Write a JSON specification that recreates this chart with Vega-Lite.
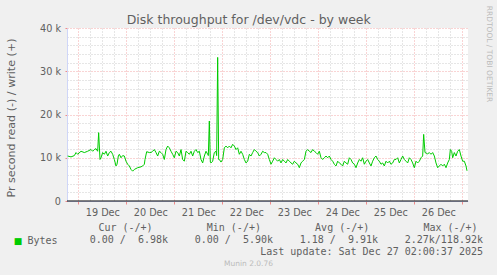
{
  "$schema": "https://vega.github.io/schema/vega-lite/v6.json",
  "background": "#f0f0f0",
  "padding": {"left": 5, "right": 6, "top": 5, "bottom": 8},
  "title": {"text": "Disk throughput for /dev/vdc - by week", "font": "DejaVu Sans", "fontSize": 12.5, "fontWeight": "normal", "color": "#606060", "anchor": "middle", "offset": -21},
  "spacing": 5,
  "datasets": {
    "write": [
      {"t":"2025-12-18T18:40","w":10400},{"t":"2025-12-18T20:20","w":10200},{"t":"2025-12-18T22:00","w":10500},{"t":"2025-12-18T22:50","w":11200},{"t":"2025-12-18T23:40","w":10800},
      {"t":"2025-12-19T01:20","w":11500},{"t":"2025-12-19T03:00","w":11200},{"t":"2025-12-19T04:40","w":11500},{"t":"2025-12-19T06:20","w":11900},{"t":"2025-12-19T07:10","w":11500},{"t":"2025-12-19T08:00","w":11900},{"t":"2025-12-19T08:50","w":12100},{"t":"2025-12-19T09:40","w":11500},{"t":"2025-12-19T10:10","w":15800},{"t":"2025-12-19T10:50","w":9600},{"t":"2025-12-19T11:20","w":10000},{"t":"2025-12-19T12:10","w":11200},{"t":"2025-12-19T13:00","w":10800},{"t":"2025-12-19T13:50","w":11500},{"t":"2025-12-19T14:40","w":10400},{"t":"2025-12-19T15:30","w":11200},{"t":"2025-12-19T16:20","w":11500},{"t":"2025-12-19T17:10","w":10800},{"t":"2025-12-19T18:00","w":9600},{"t":"2025-12-19T18:50","w":8100},{"t":"2025-12-19T19:20","w":8500},{"t":"2025-12-19T20:00","w":10400},{"t":"2025-12-19T20:30","w":10800},{"t":"2025-12-19T21:20","w":10000},{"t":"2025-12-19T22:10","w":10500},{"t":"2025-12-19T23:00","w":10400},{"t":"2025-12-19T23:50","w":9200},
      {"t":"2025-12-20T00:40","w":8500},{"t":"2025-12-20T01:30","w":8100},{"t":"2025-12-20T02:20","w":7300},{"t":"2025-12-20T03:10","w":6900},{"t":"2025-12-20T04:00","w":7300},{"t":"2025-12-20T05:40","w":7700},{"t":"2025-12-20T07:20","w":7900},{"t":"2025-12-20T08:10","w":8100},{"t":"2025-12-20T09:00","w":8500},{"t":"2025-12-20T09:20","w":9600},{"t":"2025-12-20T10:10","w":11400},{"t":"2025-12-20T11:30","w":11200},{"t":"2025-12-20T12:20","w":11200},{"t":"2025-12-20T13:10","w":11500},{"t":"2025-12-20T14:00","w":11900},{"t":"2025-12-20T14:50","w":11200},{"t":"2025-12-20T15:40","w":10400},{"t":"2025-12-20T16:30","w":11500},{"t":"2025-12-20T17:20","w":11200},{"t":"2025-12-20T18:10","w":10800},{"t":"2025-12-20T19:00","w":9600},{"t":"2025-12-20T19:50","w":11900},{"t":"2025-12-20T20:40","w":12700},{"t":"2025-12-20T21:30","w":12300},{"t":"2025-12-20T22:20","w":11500},{"t":"2025-12-20T23:10","w":10800},
      {"t":"2025-12-21T00:00","w":10000},{"t":"2025-12-21T00:50","w":11500},{"t":"2025-12-21T01:40","w":11200},{"t":"2025-12-21T02:30","w":10400},{"t":"2025-12-21T03:20","w":11900},{"t":"2025-12-21T04:10","w":9600},{"t":"2025-12-21T05:00","w":9200},{"t":"2025-12-21T05:50","w":11500},{"t":"2025-12-21T06:40","w":11200},{"t":"2025-12-21T07:30","w":10800},{"t":"2025-12-21T08:20","w":11500},{"t":"2025-12-21T09:10","w":10400},{"t":"2025-12-21T10:00","w":11500},{"t":"2025-12-21T10:50","w":11900},{"t":"2025-12-21T11:40","w":11200},{"t":"2025-12-21T12:30","w":11500},{"t":"2025-12-21T13:20","w":9600},{"t":"2025-12-21T14:10","w":8800},{"t":"2025-12-21T15:00","w":10400},{"t":"2025-12-21T15:50","w":11500},{"t":"2025-12-21T16:40","w":10800},{"t":"2025-12-21T17:00","w":10500},{"t":"2025-12-21T17:30","w":18500},{"t":"2025-12-21T18:00","w":9000},{"t":"2025-12-21T18:20","w":8800},{"t":"2025-12-21T19:10","w":9200},{"t":"2025-12-21T20:00","w":11200},{"t":"2025-12-21T20:50","w":11500},{"t":"2025-12-21T21:10","w":10500},{"t":"2025-12-21T21:40","w":33200},{"t":"2025-12-21T22:10","w":9600},{"t":"2025-12-21T22:30","w":9600},{"t":"2025-12-21T23:20","w":9000},
      {"t":"2025-12-22T00:10","w":9600},{"t":"2025-12-22T01:00","w":12300},{"t":"2025-12-22T01:50","w":12700},{"t":"2025-12-22T02:40","w":12300},{"t":"2025-12-22T03:30","w":12700},{"t":"2025-12-22T04:20","w":12300},{"t":"2025-12-22T05:10","w":13100},{"t":"2025-12-22T06:00","w":12700},{"t":"2025-12-22T06:50","w":11900},{"t":"2025-12-22T07:40","w":12300},{"t":"2025-12-22T08:30","w":10800},{"t":"2025-12-22T09:20","w":11500},{"t":"2025-12-22T10:10","w":10800},{"t":"2025-12-22T11:00","w":9600},{"t":"2025-12-22T11:50","w":8800},{"t":"2025-12-22T12:40","w":9200},{"t":"2025-12-22T13:30","w":10800},{"t":"2025-12-22T14:20","w":10400},{"t":"2025-12-22T15:10","w":11200},{"t":"2025-12-22T16:00","w":11900},{"t":"2025-12-22T16:50","w":11500},{"t":"2025-12-22T17:40","w":11200},{"t":"2025-12-22T18:30","w":10400},{"t":"2025-12-22T19:20","w":10800},{"t":"2025-12-22T20:10","w":11500},{"t":"2025-12-22T21:00","w":11200},{"t":"2025-12-22T21:50","w":11200},{"t":"2025-12-22T22:40","w":10800},{"t":"2025-12-22T23:30","w":9600},
      {"t":"2025-12-23T00:20","w":8500},{"t":"2025-12-23T01:10","w":9200},{"t":"2025-12-23T02:00","w":10000},{"t":"2025-12-23T02:50","w":9600},{"t":"2025-12-23T03:40","w":9200},{"t":"2025-12-23T04:30","w":9600},{"t":"2025-12-23T05:20","w":8800},{"t":"2025-12-23T06:10","w":9600},{"t":"2025-12-23T07:00","w":9200},{"t":"2025-12-23T07:50","w":8800},{"t":"2025-12-23T08:40","w":9600},{"t":"2025-12-23T09:30","w":9200},{"t":"2025-12-23T10:20","w":8800},{"t":"2025-12-23T11:10","w":8500},{"t":"2025-12-23T12:00","w":9200},{"t":"2025-12-23T12:50","w":8800},{"t":"2025-12-23T13:40","w":8500},{"t":"2025-12-23T14:30","w":7700},{"t":"2025-12-23T15:20","w":8800},{"t":"2025-12-23T16:10","w":9200},{"t":"2025-12-23T17:00","w":9600},{"t":"2025-12-23T17:50","w":11500},{"t":"2025-12-23T18:40","w":11900},{"t":"2025-12-23T19:30","w":11500},{"t":"2025-12-23T20:20","w":11200},{"t":"2025-12-23T21:10","w":11900},{"t":"2025-12-23T22:00","w":11500},{"t":"2025-12-23T22:50","w":11200},{"t":"2025-12-23T23:40","w":10800},
      {"t":"2025-12-24T00:30","w":11500},{"t":"2025-12-24T01:20","w":10000},{"t":"2025-12-24T02:10","w":9600},{"t":"2025-12-24T03:00","w":10000},{"t":"2025-12-24T03:50","w":10400},{"t":"2025-12-24T04:40","w":10000},{"t":"2025-12-24T05:30","w":10400},{"t":"2025-12-24T06:20","w":9600},{"t":"2025-12-24T07:10","w":9200},{"t":"2025-12-24T08:00","w":8500},{"t":"2025-12-24T08:50","w":8100},{"t":"2025-12-24T09:40","w":9200},{"t":"2025-12-24T10:30","w":8800},{"t":"2025-12-24T11:20","w":8500},{"t":"2025-12-24T12:10","w":8100},{"t":"2025-12-24T13:00","w":9200},{"t":"2025-12-24T13:50","w":8800},{"t":"2025-12-24T14:40","w":8500},{"t":"2025-12-24T15:30","w":10000},{"t":"2025-12-24T16:20","w":9600},{"t":"2025-12-24T17:10","w":8800},{"t":"2025-12-24T18:00","w":8500},{"t":"2025-12-24T18:50","w":7700},{"t":"2025-12-24T19:40","w":8800},{"t":"2025-12-24T20:30","w":9600},{"t":"2025-12-24T21:20","w":9200},{"t":"2025-12-24T22:10","w":10000},{"t":"2025-12-24T23:00","w":8500},{"t":"2025-12-24T23:50","w":9200},
      {"t":"2025-12-25T00:40","w":9600},{"t":"2025-12-25T01:30","w":8800},{"t":"2025-12-25T02:20","w":8100},{"t":"2025-12-25T03:10","w":9200},{"t":"2025-12-25T04:00","w":10000},{"t":"2025-12-25T04:50","w":10400},{"t":"2025-12-25T05:40","w":9600},{"t":"2025-12-25T06:30","w":9200},{"t":"2025-12-25T07:20","w":8500},{"t":"2025-12-25T08:10","w":8800},{"t":"2025-12-25T09:00","w":8100},{"t":"2025-12-25T09:50","w":9200},{"t":"2025-12-25T10:40","w":8800},{"t":"2025-12-25T11:30","w":9200},{"t":"2025-12-25T12:20","w":8500},{"t":"2025-12-25T13:10","w":8800},{"t":"2025-12-25T14:00","w":9600},{"t":"2025-12-25T14:50","w":9600},{"t":"2025-12-25T15:40","w":10000},{"t":"2025-12-25T16:30","w":8800},{"t":"2025-12-25T17:20","w":9600},{"t":"2025-12-25T18:10","w":10400},{"t":"2025-12-25T19:00","w":9600},{"t":"2025-12-25T19:50","w":9200},{"t":"2025-12-25T20:40","w":8800},{"t":"2025-12-25T21:30","w":10000},{"t":"2025-12-25T22:20","w":9600},{"t":"2025-12-25T23:10","w":8800},
      {"t":"2025-12-26T00:00","w":7700},{"t":"2025-12-26T00:50","w":9200},{"t":"2025-12-26T01:40","w":8800},{"t":"2025-12-26T02:30","w":9200},{"t":"2025-12-26T03:20","w":10000},{"t":"2025-12-26T04:10","w":10400},{"t":"2025-12-26T04:40","w":15400},{"t":"2025-12-26T05:20","w":11200},{"t":"2025-12-26T06:40","w":10900},{"t":"2025-12-26T07:30","w":11200},{"t":"2025-12-26T08:20","w":10800},{"t":"2025-12-26T09:10","w":11200},{"t":"2025-12-26T10:00","w":10400},{"t":"2025-12-26T10:50","w":8800},{"t":"2025-12-26T11:40","w":7700},{"t":"2025-12-26T12:30","w":8100},{"t":"2025-12-26T13:20","w":8500},{"t":"2025-12-26T14:10","w":8100},{"t":"2025-12-26T15:00","w":8500},{"t":"2025-12-26T15:50","w":7700},{"t":"2025-12-26T16:40","w":8800},{"t":"2025-12-26T17:30","w":9600},{"t":"2025-12-26T18:00","w":11900},{"t":"2025-12-26T18:40","w":11500},{"t":"2025-12-26T19:10","w":10000},{"t":"2025-12-26T20:00","w":11200},{"t":"2025-12-26T20:50","w":10400},{"t":"2025-12-26T21:40","w":11500},{"t":"2025-12-26T22:30","w":11900},{"t":"2025-12-26T23:20","w":10400},
      {"t":"2025-12-27T00:10","w":9200},{"t":"2025-12-27T01:00","w":9200},{"t":"2025-12-27T01:50","w":8100},{"t":"2025-12-27T02:20","w":6980}
    ],
    "legend": [
      {"row":"head","col":"Cur","text":"Cur (-/+)"},
      {"row":"head","col":"Min","text":"Min (-/+)"},
      {"row":"head","col":"Avg","text":"Avg (-/+)"},
      {"row":"head","col":"Max","text":"Max (-/+)"},
      {"row":"Bytes","col":"Cur","text":"0.00 /\u00a0 6.98k"},
      {"row":"Bytes","col":"Min","text":"0.00 /\u00a0 5.90k"},
      {"row":"Bytes","col":"Avg","text":"1.18 /\u00a0 9.91k"},
      {"row":"Bytes","col":"Max","text":"2.27k/118.92k"},
      {"row":"update","col":"Max","text":"Last update: Sat Dec 27 02:00:37 2025"},
      {"row":"munin","col":"Min","text":"Munin 2.0.76"}
    ]
  },
  "vconcat": [
    {
      "width": 401,
      "height": 173,
      "view": {"fill": "#ffffff", "stroke": null},
      "layer": [
        {
          "data": {"name": "write"},
          "mark": {"type": "line", "color": "#00cc00", "strokeWidth": 1},
          "encoding": {
            "x": {
              "field": "t", "type": "temporal",
              "scale": {"domain": [{"year": 2025, "month": 12, "date": 18, "hours": 18, "minutes": 20}, {"year": 2025, "month": 12, "date": 27, "hours": 2, "minutes": 50}], "nice": false},
              "axis": {
                "title": null,
                "values": [
                  {"year":2025,"month":12,"date":19,"hours":0},{"year":2025,"month":12,"date":19,"hours":6},{"year":2025,"month":12,"date":19,"hours":12},{"year":2025,"month":12,"date":19,"hours":18},
                  {"year":2025,"month":12,"date":20,"hours":0},{"year":2025,"month":12,"date":20,"hours":6},{"year":2025,"month":12,"date":20,"hours":12},{"year":2025,"month":12,"date":20,"hours":18},
                  {"year":2025,"month":12,"date":21,"hours":0},{"year":2025,"month":12,"date":21,"hours":6},{"year":2025,"month":12,"date":21,"hours":12},{"year":2025,"month":12,"date":21,"hours":18},
                  {"year":2025,"month":12,"date":22,"hours":0},{"year":2025,"month":12,"date":22,"hours":6},{"year":2025,"month":12,"date":22,"hours":12},{"year":2025,"month":12,"date":22,"hours":18},
                  {"year":2025,"month":12,"date":23,"hours":0},{"year":2025,"month":12,"date":23,"hours":6},{"year":2025,"month":12,"date":23,"hours":12},{"year":2025,"month":12,"date":23,"hours":18},
                  {"year":2025,"month":12,"date":24,"hours":0},{"year":2025,"month":12,"date":24,"hours":6},{"year":2025,"month":12,"date":24,"hours":12},{"year":2025,"month":12,"date":24,"hours":18},
                  {"year":2025,"month":12,"date":25,"hours":0},{"year":2025,"month":12,"date":25,"hours":6},{"year":2025,"month":12,"date":25,"hours":12},{"year":2025,"month":12,"date":25,"hours":18},
                  {"year":2025,"month":12,"date":26,"hours":0},{"year":2025,"month":12,"date":26,"hours":6},{"year":2025,"month":12,"date":26,"hours":12},{"year":2025,"month":12,"date":26,"hours":18},
                  {"year":2025,"month":12,"date":27,"hours":0}
                ],
                "labelExpr": "hours(datum.value) === 12 ? timeFormat(datum.value, '%d %b') : ''",
                "labelFont": "DejaVu Sans", "labelFontSize": 9.7, "labelColor": "#606060",
                "labelPadding": 3.5, "labelAngle": 0,
                "labelOverlap": false, "labelBound": false, "labelFlush": false,
                "tickSize": 3,
                "tickColor": {"condition": {"test": "hours(datum.value) === 0", "value": "#f08a8a"}, "value": "transparent"},
                "gridColor": {"condition": {"test": "hours(datum.value) === 0", "value": "#f2a8a8"}, "value": "#cccccc"},
                "gridDash": [1, 2],
                "domainColor": "#cfd6f8"
              }
            },
            "y": {
              "field": "w", "type": "quantitative",
              "scale": {"domain": [0, 40000], "nice": false},
              "axis": {
                "values": [0, 2000, 4000, 6000, 8000, 10000, 12000, 14000, 16000, 18000, 20000, 22000, 24000, 26000, 28000, 30000, 32000, 34000, 36000, 38000, 40000],
                "title": "Pr second read (-) / write (+)",
                "titleFont": "DejaVu Sans", "titleFontSize": 11.1, "titleFontWeight": "normal", "titleColor": "#606060",
                "titlePadding": 23, "titleY": 89.5,
                "labelExpr": "datum.value % 10000 === 0 ? (datum.value === 0 ? '0' : (datum.value / 1000) + ' k') : ''",
                "labelFont": "DejaVu Sans", "labelFontSize": 9.7, "labelColor": "#606060",
                "labelPadding": 4.5, "labelOverlap": false, "labelBound": false, "labelFlush": false,
                "tickSize": 2,
                "tickColor": {"condition": {"test": "datum.value % 10000 === 0", "value": "#f08a8a"}, "value": "transparent"},
                "gridColor": {"condition": {"test": "datum.value % 10000 === 0", "value": "#f2a8a8"}, "value": "#cccccc"},
                "gridDash": [1, 2],
                "domainColor": "#cfd6f8"
              }
            }
          }
        },
        {
          "data": {"values": [{"level": 0}]},
          "mark": {"type": "rule", "color": "#000000", "strokeWidth": 1},
          "encoding": {
            "y": {
              "field": "level", "type": "quantitative",
              "axis": {
                "orient": "right",
                "title": "RRDTOOL / TOBI OETIKER",
                "titleFont": "DejaVu Sans", "titleFontSize": 7.5, "titleFontWeight": "normal", "titleColor": "#bbbbbb",
                "titleAngle": 90, "titleAlign": "center", "titleBaseline": "middle",
                "titleX": 20, "titleY": 25.5,
                "labels": false, "ticks": false, "domain": false, "grid": false
              }
            }
          }
        }
      ],
      "resolve": {"axis": {"y": "independent"}}
    },
    {
      "width": 420,
      "height": 36,
      "data": {"name": "legend"},
      "encoding": {
        "y": {
          "field": "row", "type": "nominal",
          "scale": {"type": "point", "domain": ["head", "Bytes", "update", "munin"], "padding": 0},
          "axis": {
            "title": "■", "titleAngle": 0, "titleColor": "#00cc00", "titleFont": "DejaVu Sans", "titleFontSize": 9, "titleFontWeight": "normal",
            "titleX": -49.5, "titleY": 12, "titleAlign": "center", "titleBaseline": "middle",
            "labelExpr": "datum.value === 'Bytes' ? 'Bytes' : ''",
            "labelFont": "DejaVu Sans Mono", "labelFontSize": 10, "labelColor": "#606060", "labelPadding": 10, "labelBaseline": "middle",
            "ticks": false, "domain": false, "grid": false
          }
        }
      },
      "layer": [
        {
          "transform": [{"filter": "datum.row === 'head'"}],
          "mark": {"type": "text", "align": "center", "baseline": "middle", "font": "DejaVu Sans Mono", "fontSize": 10, "color": "#606060"},
          "encoding": {
            "x": {"field": "col", "type": "nominal", "scale": {"type": "point", "domain": ["Cur", "Min", "Avg", "Max"], "padding": 0.4385, "align": 0.616}, "axis": null},
            "text": {"field": "text"}
          }
        },
        {
          "transform": [{"filter": "datum.row === 'Bytes' || datum.row === 'update'"}],
          "mark": {"type": "text", "align": "right", "baseline": "middle", "font": "DejaVu Sans Mono", "fontSize": 10, "color": "#606060"},
          "encoding": {
            "x": {"field": "col", "type": "nominal", "scale": {"type": "point", "domain": ["Cur", "Min", "Avg", "Max"], "padding": 0.5, "align": 0.962}, "axis": null},
            "text": {"field": "text"}
          }
        },
        {
          "transform": [{"filter": "datum.row === 'munin'"}],
          "mark": {"type": "text", "align": "right", "baseline": "middle", "font": "DejaVu Sans", "fontSize": 7.5, "color": "#bbbbbb"},
          "encoding": {
            "x": {"field": "col", "type": "nominal", "scale": {"type": "point", "domain": ["Cur", "Min", "Avg", "Max"], "padding": 0.5, "align": 0.962}, "axis": null},
            "text": {"field": "text"}
          }
        }
      ],
      "resolve": {"scale": {"x": "independent"}}
    }
  ],
  "config": {
    "view": {"stroke": null},
    "axis": {"titleFont": "DejaVu Sans", "labelFont": "DejaVu Sans"}
  }
}
